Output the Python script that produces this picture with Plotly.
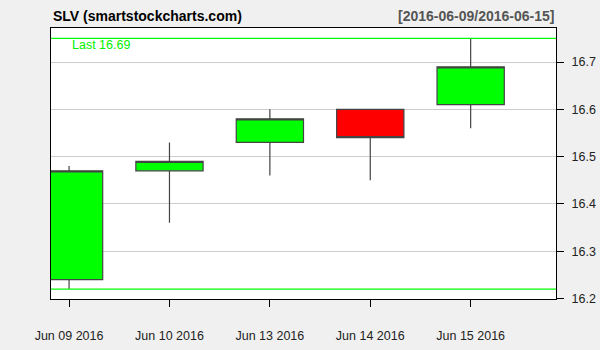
import plotly.graph_objects as go

dates = ["Jun 09 2016", "Jun 10 2016", "Jun 13 2016", "Jun 14 2016", "Jun 15 2016"]
opens = [16.24, 16.47, 16.53, 16.60, 16.61]
highs = [16.48, 16.53, 16.60, 16.60, 16.75]
lows = [16.22, 16.36, 16.46, 16.45, 16.56]
closes = [16.47, 16.49, 16.58, 16.54, 16.69]
yticks = [16.2, 16.3, 16.4, 16.5, 16.6, 16.7]

xs = list(range(len(dates)))
hi = max(highs)
lo = min(lows)
last = closes[-1]

FONT = "Liberation Sans, Arial"

fig = go.Figure()
fig.add_trace(go.Candlestick(
    x=xs, open=opens, high=highs, low=lows, close=closes,
    increasing=dict(fillcolor="#00FF00", line=dict(color="#444444", width=1.2)),
    decreasing=dict(fillcolor="#FF0000", line=dict(color="#444444", width=1.2)),
    whiskerwidth=0, showlegend=False, hoverinfo="skip",
))

for v in (hi, lo):
    fig.add_shape(type="line", xref="paper", x0=0, x1=1, yref="y", y0=v, y1=v,
                  line=dict(color="#00FF00", width=1.3))

fig.add_annotation(xref="paper", yref="y", x=0.038, y=hi, text=f"Last {last:.2f}",
                   showarrow=False, xanchor="left", yanchor="top",
                   font=dict(family=FONT, size=12.5, color="#00F000"), yshift=2)

fig.add_annotation(xref="paper", yref="paper", x=0, y=1, yshift=12, text="<b>SLV (smartstockcharts.com)</b>",
                   showarrow=False, xanchor="left", yanchor="middle",
                   font=dict(family=FONT, size=14, color="#000000"))
fig.add_annotation(xref="paper", yref="paper", x=1, y=1, yshift=12, text="<b>[2016-06-09/2016-06-15]</b>",
                   showarrow=False, xanchor="right", yanchor="middle",
                   font=dict(family=FONT, size=14, color="#555555"))

fig.update_layout(
    width=600, height=350,
    margin=dict(l=51, r=44, t=28, b=51),
    paper_bgcolor="#F0F0F0", plot_bgcolor="#FFFFFF",
    font=dict(family=FONT, size=12.5, color="#222222"),
    boxgap=0.33, boxgroupgap=0,
    xaxis=dict(
        range=[-0.18, 4.85], tickvals=xs, ticktext=dates, automargin=False,
        showgrid=False, zeroline=False, rangeslider=dict(visible=False),
        showline=True, linecolor="#000000", linewidth=1, mirror=True,
        ticks="outside", ticklen=7, tickcolor="#000000", ticklabelstandoff=18,
    ),
    yaxis=dict(
        side="right", range=[16.199, 16.772], tickvals=yticks, automargin=False,
        ticktext=[f"{t:.1f}" for t in yticks],
        showgrid=True, gridcolor="#CCCCCC", gridwidth=1, zeroline=False,
        showline=True, linecolor="#000000", linewidth=1, mirror=True,
        ticks="outside", ticklen=7, tickcolor="#000000", ticklabelstandoff=5,
    ),
)

fig.write_html("out.html")
